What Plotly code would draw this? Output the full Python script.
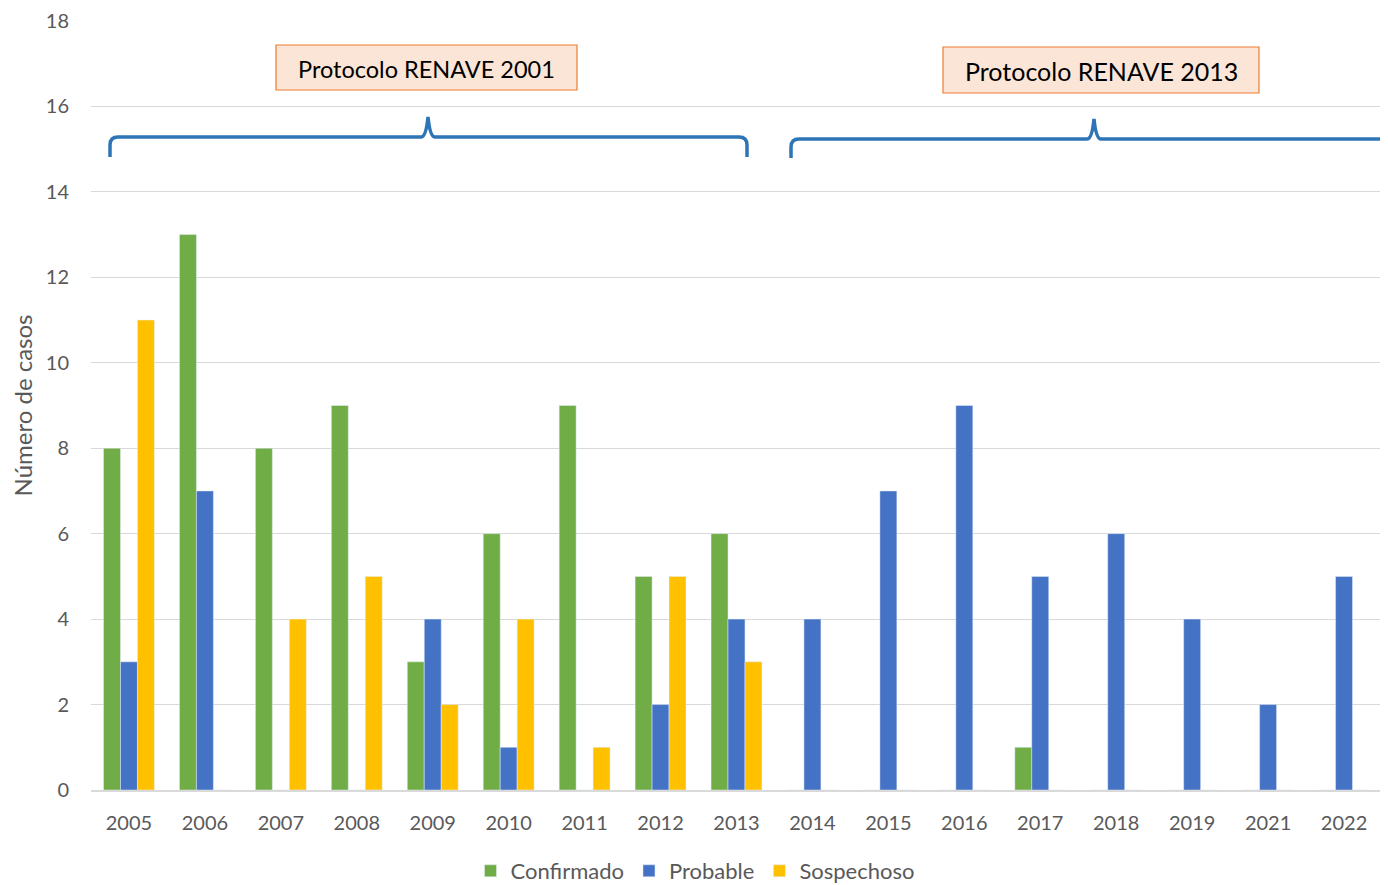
import plotly.graph_objects as go

years = ["2005", "2006", "2007", "2008", "2009", "2010", "2011", "2012", "2013",
         "2014", "2015", "2016", "2017", "2018", "2019", "2021", "2022"]
confirmado = [8, 13, 8, 9, 3, 6, 9, 5, 6, 0, 0, 0, 1, 0, 0, 0, 0]
probable = [3, 7, 0, 0, 4, 1, 0, 2, 4, 4, 7, 9, 5, 6, 4, 2, 5]
sospechoso = [11, 0, 4, 5, 2, 4, 1, 5, 3, 0, 0, 0, 0, 0, 0, 0, 0]
y_ticks = [0, 2, 4, 6, 8, 10, 12, 14, 16, 18]
box_labels = ["Protocolo RENAVE 2001", "Protocolo RENAVE 2013"]

OFF = 8  # page body margin
W, H = 1380, 877
L, R, T, B = 83, 6, 13, 95
PW = W - L - R
PH = H - T - B
FONT = "Lato, Open Sans, sans-serif"
GREY = "#595959"

# screen pixel -> paper fraction
def px(x):
    return (x - OFF - L) / PW

def py(y):
    return (H - B - (y - OFF)) / PH

fig = go.Figure()
fig.add_bar(x=years, y=confirmado, name="Confirmado", marker_color="#70AD47")
fig.add_bar(x=years, y=probable, name="Probable", marker_color="#4472C4")
fig.add_bar(x=years, y=sospechoso, name="Sospechoso", marker_color="#FFC000")

def brace(x0, x1, xm, yb, yh, yp, r=8):
    pts = [
        ("M", x0, yb), ("L", x0, yh + r), ("Q", x0, yh, x0 + r, yh),
        ("L", xm - 7, yh), ("Q", xm - 2, yh, xm, yp), ("Q", xm + 2, yh, xm + 7, yh),
        ("L", x1 - r, yh), ("Q", x1, yh, x1, yh + r), ("L", x1, yb),
    ]
    s = ""
    for p in pts:
        cmd = p[0]
        coords = p[1:]
        s += cmd + " " + " ".join(
            f"{px(coords[i]):.5f},{py(coords[i+1]):.5f}" for i in range(0, len(coords), 2)
        ) + " "
    return s.strip()

fig.add_shape(type="path", xref="paper", yref="paper",
              path=brace(110, 747, 428, 157, 137, 117),
              line=dict(color="#2E75B6", width=3.5))
fig.add_shape(type="path", xref="paper", yref="paper",
              path=brace(791, 1420, 1094, 158, 139, 119),
              line=dict(color="#2E75B6", width=3.5))

boxes = [(276, 577, 45, 90, 23.5), (943, 1259, 47, 93, 25)]
for (x0, x1, y0, y1, fs), lab in zip(boxes, box_labels):
    fig.add_shape(type="rect", xref="paper", yref="paper",
                  x0=px(x0), x1=px(x1), y0=py(y1), y1=py(y0),
                  fillcolor="#FBE5D6", line=dict(color="#ED7D31", width=1.2))
    fig.add_annotation(xref="paper", yref="paper", x=px((x0 + x1) / 2), y=py((y0 + y1) / 2 + 1),
                       text=lab, showarrow=False,
                       font=dict(family=FONT, size=fs, color="#000000"),
                       xanchor="center", yanchor="middle")

fig.update_layout(
    width=W, height=H,
    margin=dict(l=L, r=R, t=T, b=B, autoexpand=False),
    paper_bgcolor="white", plot_bgcolor="white",
    barmode="group", bargap=0.33, bargroupgap=0,
    font=dict(family=FONT, color=GREY, size=18),
    legend=dict(orientation="h", xref="paper", yref="paper",
                x=px(695), xanchor="center", y=py(871), yanchor="middle",
                font=dict(size=22, color=GREY), traceorder="normal"),
    xaxis=dict(type="category", showgrid=False, showline=True, linecolor="#D9D9D9",
               linewidth=1.5, ticks="", tickfont=dict(size=20, color=GREY),
               ticklabelstandoff=14),
    yaxis=dict(range=[0, 18], tickvals=y_ticks, showgrid=True, gridcolor="#D9D9D9",
               zeroline=False, ticks="", tickfont=dict(size=20, color=GREY),
               ticklabelstandoff=21,
               title=dict(text="Número de casos", font=dict(size=24, color=GREY), standoff=10)),
)

fig.write_html("out.html")
